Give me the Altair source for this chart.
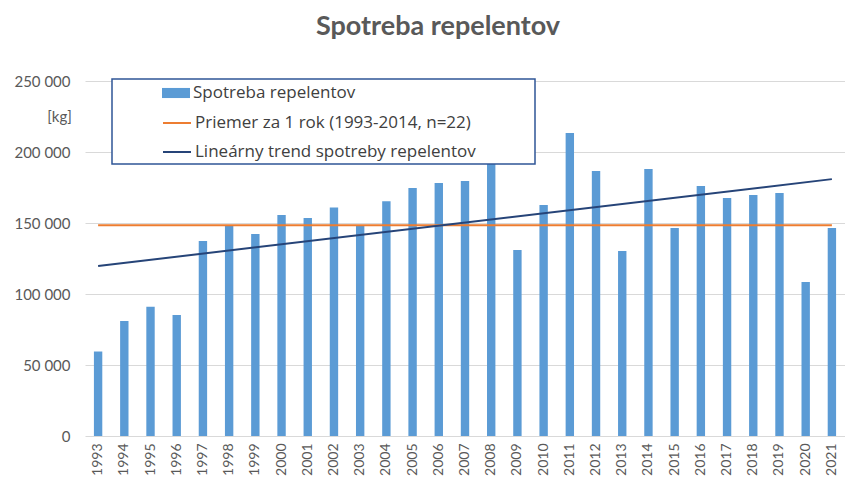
import altair as alt
import pandas as pd

years = ["1993", "1994", "1995", "1996", "1997", "1998", "1999", "2000", "2001", "2002",
         "2003", "2004", "2005", "2006", "2007", "2008", "2009", "2010", "2011", "2012",
         "2013", "2014", "2015", "2016", "2017", "2018", "2019", "2020", "2021"]
consumption = [59500, 81000, 91000, 85200, 137300, 147800, 142200, 155600, 153500, 161000,
               148000, 165400, 174600, 178100, 179500, 193000, 131000, 162600, 213300, 186600,
               130200, 188000, 146400, 176000, 167600, 169700, 171100, 108400, 146400]

avg_years = ["1993", "2021"]
avg_values = [148400, 148400]
trend_years = ["1993", "2021"]
trend_values = [119700, 180900]

BAR = "Spotreba repelentov"
AVG = "Priemer za 1 rok (1993-2014, n=22)"
TREND = "Lineárny trend spotreby repelentov"
y_ticks = [0, 50000, 100000, 150000, 200000, 250000]

bars_df = pd.DataFrame({"year": years, "value": consumption, "series": BAR})
lines_df = pd.concat([
    pd.DataFrame({"year": avg_years, "value": avg_values, "series": AVG}),
    pd.DataFrame({"year": trend_years, "value": trend_values, "series": TREND}),
])

FONT = "Lato"
LFONT = "Open Sans"
W, H = 760, 355

x_enc = alt.X("year:O", scale=alt.Scale(domain=years, paddingInner=0.68, paddingOuter=0.34),
              axis=alt.Axis(title=None, labelAngle=-90, labelPadding=7, ticks=False, domain=False,
                            labelFontSize=14, labelColor="#595959", labelFont=FONT, grid=False))
y_enc = alt.Y("value:Q", scale=alt.Scale(domain=[0, 250000]),
              axis=alt.Axis(values=y_ticks,
                            labelExpr="replace(format(datum.value, ','), ',', ' ')",
                            title="[kg]", titleAngle=0, titleX=-26, titleY=35,
                            titleAlign="center", titleBaseline="middle",
                            titleFontWeight="normal", titleFontSize=15, titleColor="#595959",
                            titleFont=FONT,
                            domain=False, ticks=False, gridColor="#D9D9D9",
                            labelPadding=15, labelFontSize=15, labelColor="#595959",
                            labelFont=FONT))

bars = alt.Chart(bars_df).mark_bar().encode(
    x=x_enc, y=y_enc,
    fill=alt.Fill("series:N", scale=alt.Scale(domain=[BAR], range=["#5B9BD5"]),
                  legend=alt.Legend(orient="none", legendX=77, legendY=-2, title=None,
                                    symbolType="M-1,-0.36H1V0.36H-1Z", symbolSize=784,
                                    symbolStrokeWidth=0, labelFontSize=17, labelColor="#404040",
                                    labelFont=LFONT, labelOffset=3, labelLimit=500, padding=0)),
)

lines = alt.Chart(lines_df).mark_line(strokeWidth=2).encode(
    x=x_enc, y=y_enc,
    stroke=alt.Stroke("series:N", scale=alt.Scale(domain=[AVG, TREND], range=["#ED7D31", "#264478"]),
                      legend=alt.Legend(orient="none", legendX=77, legendY=27, title=None,
                                        symbolType="stroke", symbolSize=784, symbolStrokeWidth=2,
                                        labelFontSize=17, labelColor="#404040", labelFont=LFONT,
                                        labelOffset=3, labelLimit=500, rowPadding=6, padding=0)),
)

box = alt.Chart(pd.DataFrame({"a": [0]})).mark_rect(
    fill="white", stroke="#2F5597", strokeWidth=1.5
).encode(x=alt.value(27), x2=alt.value(450), y=alt.value(-2), y2=alt.value(83))

chart = alt.layer(bars, lines, box).properties(
    width=W, height=H,
    title=alt.TitleParams("Spotreba repelentov", fontSize=27, fontWeight="bold", font=FONT,
                          color="#595959", anchor="middle", dx=-27, offset=33),
    autosize=alt.AutoSizeParams(type="none"),
    padding={"left": 77, "top": 73, "right": 0, "bottom": 41},
).resolve_legend(fill="independent", stroke="independent").configure_view(stroke=None)

chart.save("out.html", embed_options={"renderer": "svg", "actions": False})
